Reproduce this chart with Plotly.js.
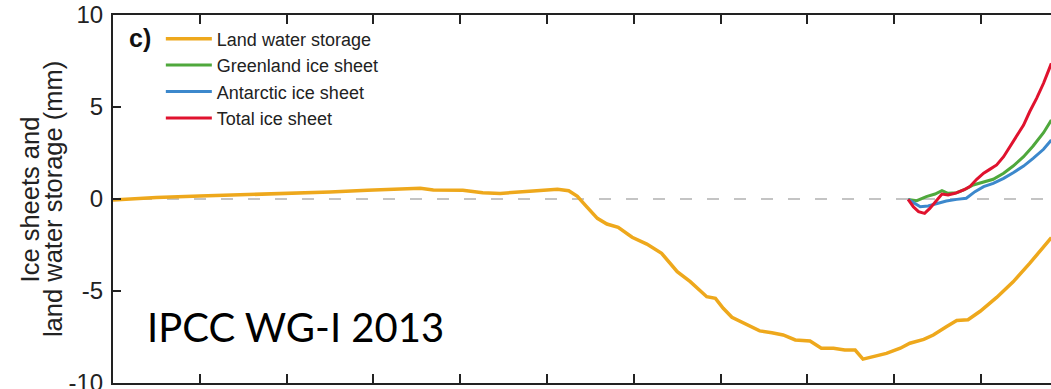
<!DOCTYPE html>
<html>
<head>
<meta charset="utf-8">
<script src="https://cdn.plot.ly/plotly-3.0.1.min.js"></script>
<style>
  html, body { margin: 0; padding: 0; background: #fff; overflow: hidden; }
  #chart { width: 1051px; height: 389px; }
</style>
</head>
<body>
<div id="chart"></div>
<script>
// Land water storage contribution to sea level (mm)
const landYears = [1900.0, 1905.0, 1910.0, 1915.0, 1921.5, 1925.0, 1929.3, 1933.0, 1935.4, 1936.9,
  1940.3, 1942.6, 1944.6, 1948.4, 1951.2, 1952.5, 1953.5, 1954.4, 1955.8, 1956.9,
  1958.2, 1959.8, 1961.5, 1963.2, 1965.0, 1966.5, 1967.6, 1968.4, 1969.4, 1970.3,
  1971.3, 1972.4, 1973.6, 1974.5, 1975.9, 1977.2, 1978.6, 1980.3, 1981.6, 1983.0,
  1984.3, 1985.5, 1986.4, 1987.6, 1989.1, 1990.7, 1991.8, 1993.4, 1994.5, 1996.0,
  1997.2, 1998.5, 1999.9, 2001.8, 2003.7, 2005.6, 2007.6, 2008.1];
const landWater = [-0.05, 0.08, 0.16, 0.22, 0.31, 0.38, 0.47, 0.53, 0.58, 0.49,
  0.48, 0.34, 0.30, 0.44, 0.53, 0.45, 0.15, -0.33, -1.05, -1.36,
  -1.54, -2.08, -2.45, -2.95, -3.95, -4.49, -4.95, -5.31, -5.40, -5.94,
  -6.43, -6.67, -6.94, -7.17, -7.27, -7.39, -7.66, -7.72, -8.11, -8.11,
  -8.21, -8.21, -8.70, -8.57, -8.39, -8.11, -7.84, -7.63, -7.39, -6.94,
  -6.60, -6.56, -6.10, -5.35, -4.50, -3.50, -2.40, -2.10];

// Greenland ice sheet (mm)
const greenYears = [1991.6, 1992.6, 1993.7, 1994.7, 1995.5, 1996.2, 1997.2, 1998.2, 1999.1, 2000.3,
  2001.4, 2002.6, 2003.7, 2004.9, 2006.0, 2007.2, 2008.1];
const greenland = [-0.02, -0.09, 0.13, 0.27, 0.45, 0.31, 0.34, 0.53, 0.76, 0.94,
  1.07, 1.40, 1.79, 2.30, 2.88, 3.60, 4.29];

// Antarctic ice sheet (mm)
const antYears = [1991.6, 1993.0, 1993.9, 1994.9, 1996.0, 1997.2, 1998.3, 1999.3, 2000.3, 2001.4,
  2002.6, 2003.7, 2004.9, 2006.0, 2007.2, 2008.1];
const antarctic = [-0.02, -0.42, -0.38, -0.24, -0.11, -0.02, 0.04, 0.40, 0.67, 0.85,
  1.12, 1.43, 1.79, 2.21, 2.70, 3.21];

// Total ice sheet (mm)
const totalYears = [1991.6, 1992.2, 1992.8, 1993.5, 1994.1, 1994.9, 1995.5, 1996.2, 1997.0, 1998.0,
  1998.7, 1999.5, 2000.3, 2001.0, 2001.8, 2002.6, 2003.3, 2004.1, 2004.9, 2005.6,
  2006.4, 2007.2, 2007.9, 2008.1];
const totalIce = [-0.02, -0.42, -0.69, -0.78, -0.51, -0.05, 0.27, 0.22, 0.31, 0.49,
  0.67, 1.07, 1.40, 1.61, 1.85, 2.30, 2.84, 3.39, 4.02, 4.74,
  5.47, 6.29, 7.19, 7.37];

const seriesNames = ['Land water storage', 'Greenland ice sheet', 'Antarctic ice sheet', 'Total ice sheet'];
const yTicks = [-10, -5, 0, 5, 10];

const FONT = 'Liberation Sans, Arial, Helvetica, sans-serif';

function lineTrace(x, y, name, color, width) {
  return {
    x: x, y: y, name: name, type: 'scatter', mode: 'lines',
    line: { color: color, width: width, shape: 'linear' },
    hoverinfo: 'skip'
  };
}

const traces = [
  lineTrace(landYears, landWater, seriesNames[0], '#EEA81C', 3.5),
  lineTrace(greenYears, greenland, seriesNames[1], '#4FA83C', 3),
  lineTrace(antYears, antarctic, seriesNames[2], '#3C88CC', 3),
  lineTrace(totalYears, totalIce, seriesNames[3], '#E0122E', 3)
];

const layout = {
  width: 1051,
  height: 389,
  margin: { l: 113, r: 0, t: 15, b: 6, pad: 0 },
  paper_bgcolor: '#ffffff',
  plot_bgcolor: '#ffffff',
  font: { family: FONT, color: '#222222' },
  showlegend: true,
  legend: {
    x: 0.051, y: 0.985, xanchor: 'left', yanchor: 'top',
    bgcolor: 'rgba(0,0,0,0)', borderwidth: 0,
    font: { family: FONT, size: 18, color: '#222222' },
    itemwidth: 46,
    traceorder: 'normal'
  },
  xaxis: {
    range: [1900, 2008.06],
    tick0: 1900, dtick: 10,
    ticks: 'inside', ticklen: 9, tickwidth: 2, tickcolor: '#222222',
    showline: true, linewidth: 2, linecolor: '#222222', mirror: 'ticks',
    showticklabels: false, showgrid: false, zeroline: false, fixedrange: true
  },
  yaxis: {
    range: [-10, 10],
    tickmode: 'array', tickvals: yTicks, ticktext: yTicks.map(String),
    ticks: 'inside', ticklen: 8, tickwidth: 2, tickcolor: '#222222',
    showline: true, linewidth: 2, linecolor: '#222222', mirror: false,
    tickfont: { family: FONT, size: 24, color: '#222222' },
    ticklabelstandoff: 3,
    ticklabeloverflow: 'allow',
    showgrid: false, zeroline: false, fixedrange: true
  },
  shapes: [{
    type: 'line', xref: 'paper', x0: 0, x1: 1, yref: 'y', y0: 0, y1: 0,
    line: { color: '#c4c4c4', width: 2, dash: '12px,15px' },
    layer: 'below'
  }],
  annotations: [
    { text: 'Ice sheets and', xref: 'paper', yref: 'paper', x: -0.0880, y: 0.5,
      xanchor: 'center', yanchor: 'middle', textangle: -90, showarrow: false,
      font: { family: FONT, size: 25.5, color: '#222222' } },
    { text: 'land water storage (mm)', xref: 'paper', yref: 'paper', x: -0.0639, y: 0.5,
      xanchor: 'center', yanchor: 'middle', textangle: -90, showarrow: false,
      font: { family: FONT, size: 25.5, color: '#222222' } },
    { text: '<b>c)</b>', xref: 'paper', yref: 'paper', x: 0.0288, y: 0.9375,
      xanchor: 'center', yanchor: 'middle', showarrow: false,
      font: { family: FONT, size: 25, color: '#111111' } },
    { text: 'IPCC WG-I 2013', xref: 'paper', yref: 'paper', x: 0.0343, y: 0.152,
      xanchor: 'left', yanchor: 'middle', showarrow: false,
      font: { family: 'Lato, Open Sans, sans-serif', size: 40, color: '#000000' } }
  ]
};

Plotly.newPlot('chart', traces, layout, { staticPlot: true, displayModeBar: false });
</script>
</body>
</html>
